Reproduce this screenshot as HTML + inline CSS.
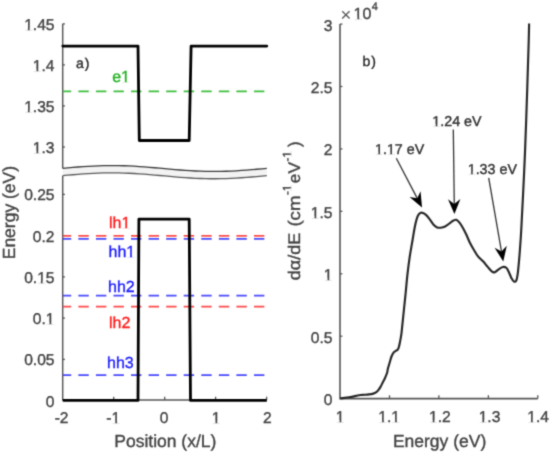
<!DOCTYPE html>
<html><head><meta charset="utf-8"><style>
html,body{margin:0;padding:0;background:#fff;}
svg{display:block;}

text{font-family:"Liberation Sans",sans-serif;stroke-width:0.35px;paint-order:stroke;text-rendering:geometricPrecision;}
</style></head><body>
<svg width="550" height="452" viewBox="0 0 550 452">
<defs><filter id="bl" x="0" y="0" width="550" height="452" filterUnits="userSpaceOnUse" color-interpolation-filters="sRGB"><feConvolveMatrix order="3" kernelMatrix="0.0277 0.1110 0.0277 0.1110 0.4452 0.1110 0.0277 0.1110 0.0277" divisor="1" edgeMode="duplicate"/></filter></defs>
<g filter="url(#bl)">
<rect width="550" height="452" fill="#fff"/>
<path d="M62.7,23.85 V168.5 M62.7,175.8 V399.9 H266.6" fill="none" stroke="#555555" stroke-width="1.45"/>
<line x1="62.7" y1="23.9" x2="64.9" y2="23.9" stroke="#555555" stroke-width="1.3"/>
<line x1="62.7" y1="64.9" x2="64.9" y2="64.9" stroke="#555555" stroke-width="1.3"/>
<line x1="62.7" y1="105.9" x2="64.9" y2="105.9" stroke="#555555" stroke-width="1.3"/>
<line x1="62.7" y1="147.0" x2="64.9" y2="147.0" stroke="#555555" stroke-width="1.3"/>
<line x1="62.7" y1="194.4" x2="64.9" y2="194.4" stroke="#555555" stroke-width="1.3"/>
<line x1="62.7" y1="235.6" x2="64.9" y2="235.6" stroke="#555555" stroke-width="1.3"/>
<line x1="62.7" y1="276.9" x2="64.9" y2="276.9" stroke="#555555" stroke-width="1.3"/>
<line x1="62.7" y1="318.1" x2="64.9" y2="318.1" stroke="#555555" stroke-width="1.3"/>
<line x1="62.7" y1="359.4" x2="64.9" y2="359.4" stroke="#555555" stroke-width="1.3"/>
<line x1="113.7" y1="399.9" x2="113.7" y2="396.7" stroke="#555555" stroke-width="1.3"/>
<line x1="164.7" y1="399.9" x2="164.7" y2="396.7" stroke="#555555" stroke-width="1.3"/>
<line x1="215.6" y1="399.9" x2="215.6" y2="396.7" stroke="#555555" stroke-width="1.3"/>
<line x1="266.6" y1="399.9" x2="266.6" y2="396.7" stroke="#555555" stroke-width="1.3"/>
<polygon points="62.7,168.35 67.8,167.89 72.9,167.44 78.0,167.02 83.1,166.64 88.2,166.31 93.3,166.03 98.4,165.80 103.5,165.65 108.6,165.57 113.7,165.55 118.8,165.61 123.9,165.75 129.0,165.95 134.1,166.21 139.2,166.53 144.3,166.90 149.4,167.30 154.5,167.74 159.6,168.20 164.8,168.66 169.9,169.12 175.0,169.56 180.1,169.98 185.2,170.36 190.3,170.70 195.4,170.98 200.5,171.20 205.6,171.35 210.7,171.43 215.8,171.45 220.9,171.38 226.0,171.25 231.1,171.05 236.2,170.79 241.3,170.47 246.4,170.10 251.5,169.69 256.6,169.26 261.7,168.80 266.8,168.34 266.8,175.64 261.7,176.10 256.6,176.56 251.5,176.99 246.4,177.40 241.3,177.77 236.2,178.09 231.1,178.35 226.0,178.55 220.9,178.68 215.8,178.75 210.7,178.73 205.6,178.65 200.5,178.50 195.4,178.28 190.3,178.00 185.2,177.66 180.1,177.28 175.0,176.86 169.9,176.42 164.8,175.96 159.6,175.50 154.5,175.04 149.4,174.60 144.3,174.20 139.2,173.83 134.1,173.51 129.0,173.25 123.9,173.05 118.8,172.91 113.7,172.85 108.6,172.87 103.5,172.95 98.4,173.10 93.3,173.33 88.2,173.61 83.1,173.94 78.0,174.32 72.9,174.74 67.8,175.19 62.7,175.65" fill="#f3f3f3" stroke="none"/>
<polyline points="62.7,168.35 67.8,167.89 72.9,167.44 78.0,167.02 83.1,166.64 88.2,166.31 93.3,166.03 98.4,165.80 103.5,165.65 108.6,165.57 113.7,165.55 118.8,165.61 123.9,165.75 129.0,165.95 134.1,166.21 139.2,166.53 144.3,166.90 149.4,167.30 154.5,167.74 159.6,168.20 164.8,168.66 169.9,169.12 175.0,169.56 180.1,169.98 185.2,170.36 190.3,170.70 195.4,170.98 200.5,171.20 205.6,171.35 210.7,171.43 215.8,171.45 220.9,171.38 226.0,171.25 231.1,171.05 236.2,170.79 241.3,170.47 246.4,170.10 251.5,169.69 256.6,169.26 261.7,168.80 266.8,168.34" fill="none" stroke="#3a3a3a" stroke-width="1.3"/>
<polyline points="62.7,175.65 67.8,175.19 72.9,174.74 78.0,174.32 83.1,173.94 88.2,173.61 93.3,173.33 98.4,173.10 103.5,172.95 108.6,172.87 113.7,172.85 118.8,172.91 123.9,173.05 129.0,173.25 134.1,173.51 139.2,173.83 144.3,174.20 149.4,174.60 154.5,175.04 159.6,175.50 164.8,175.96 169.9,176.42 175.0,176.86 180.1,177.28 185.2,177.66 190.3,178.00 195.4,178.28 200.5,178.50 205.6,178.65 210.7,178.73 215.8,178.75 220.9,178.68 226.0,178.55 231.1,178.35 236.2,178.09 241.3,177.77 246.4,177.40 251.5,176.99 256.6,176.56 261.7,176.10 266.8,175.64" fill="none" stroke="#5a5a5a" stroke-width="1.3"/>
<line x1="62.7" y1="91.4" x2="266.6" y2="91.4" stroke="#3cbe3c" stroke-width="1.75" stroke-dasharray="10.4 7.16" stroke-dashoffset="1.9"/>
<line x1="62.7" y1="235.8" x2="266.6" y2="235.8" stroke="#ff4848" stroke-width="1.75" stroke-dasharray="10.4 7.16" stroke-dashoffset="1.9"/>
<line x1="62.7" y1="238.9" x2="266.6" y2="238.9" stroke="#4848ff" stroke-width="1.75" stroke-dasharray="10.4 7.16" stroke-dashoffset="1.9"/>
<line x1="62.7" y1="295.5" x2="266.6" y2="295.5" stroke="#4848ff" stroke-width="1.75" stroke-dasharray="10.4 7.16" stroke-dashoffset="1.9"/>
<line x1="62.7" y1="306.6" x2="266.6" y2="306.6" stroke="#ff4848" stroke-width="1.75" stroke-dasharray="10.4 7.16" stroke-dashoffset="1.9"/>
<line x1="62.7" y1="375.0" x2="266.6" y2="375.0" stroke="#4848ff" stroke-width="1.75" stroke-dasharray="10.4 7.16" stroke-dashoffset="1.9"/>
<polyline points="62.8,46.1 138,46.1 139.3,140.5 189.2,140.5 191.1,46.1 266.8,46.1" fill="none" stroke="#000" stroke-width="2.8" stroke-linejoin="round" stroke-linecap="round"/>
<polyline points="62.8,400.4 138,400.4 138.9,219.2 189.2,219.2 190.5,400.4 266.8,400.4" fill="none" stroke="#000" stroke-width="2.8" stroke-linejoin="round" stroke-linecap="butt"/>
<text x="54.5" y="29.95" font-size="15.6" text-anchor="end" fill="#404040" stroke="#404040" >1.45</text>
<text x="54.5" y="71.00" font-size="15.6" text-anchor="end" fill="#404040" stroke="#404040" >1.4</text>
<text x="54.5" y="112.05" font-size="15.6" text-anchor="end" fill="#404040" stroke="#404040" >1.35</text>
<text x="54.5" y="153.10" font-size="15.6" text-anchor="end" fill="#404040" stroke="#404040" >1.3</text>
<text x="54.5" y="200.45" font-size="15.6" text-anchor="end" fill="#404040" stroke="#404040" >0.25</text>
<text x="54.5" y="241.70" font-size="15.6" text-anchor="end" fill="#404040" stroke="#404040" >0.2</text>
<text x="54.5" y="282.95" font-size="15.6" text-anchor="end" fill="#404040" stroke="#404040" >0.15</text>
<text x="54.5" y="324.20" font-size="15.6" text-anchor="end" fill="#404040" stroke="#404040" >0.1</text>
<text x="54.5" y="365.45" font-size="15.6" text-anchor="end" fill="#404040" stroke="#404040" >0.05</text>
<text x="54.5" y="406.70" font-size="15.6" text-anchor="end" fill="#404040" stroke="#404040" >0</text>
<text x="61.6" y="423.2" font-size="15.6" text-anchor="middle" fill="#404040" stroke="#404040" >-2</text>
<text x="113.3" y="423.2" font-size="15.6" text-anchor="middle" fill="#404040" stroke="#404040" >-1</text>
<text x="164.1" y="423.2" font-size="15.6" text-anchor="middle" fill="#404040" stroke="#404040" >0</text>
<text x="216.1" y="423.2" font-size="15.6" text-anchor="middle" fill="#404040" stroke="#404040" >1</text>
<text x="267.3" y="423.2" font-size="15.6" text-anchor="middle" fill="#404040" stroke="#404040" >2</text>
<text x="165.3" y="446.6" font-size="17.5" text-anchor="middle" fill="#404040" stroke="#404040" >Position (x/L)</text>
<text transform="translate(15.2,212.6) rotate(-90)" font-size="17.5" text-anchor="middle" fill="#404040" stroke="#404040">Energy (eV)</text>
<text x="76" y="67.5" font-size="14" text-anchor="start" fill="#262626" stroke="#262626" letter-spacing="1">a)</text>
<text x="112.2" y="81.8" font-size="16" text-anchor="start" fill="#1fb01f" stroke="#1fb01f" >e1</text>
<text x="109" y="228" font-size="16" text-anchor="start" fill="#ff1a1a" stroke="#ff1a1a" >lh1</text>
<text x="108.5" y="256.5" font-size="16" text-anchor="start" fill="#1a1aff" stroke="#1a1aff" >hh1</text>
<text x="108" y="291.5" font-size="16" text-anchor="start" fill="#1a1aff" stroke="#1a1aff" >hh2</text>
<text x="109" y="327.7" font-size="16" text-anchor="start" fill="#ff1a1a" stroke="#ff1a1a" >lh2</text>
<text x="107" y="368.1" font-size="16" text-anchor="start" fill="#1a1aff" stroke="#1a1aff" >hh3</text>
<path d="M340.0,24.08 V398.6 H537.80" fill="none" stroke="#555555" stroke-width="1.6"/>
<line x1="340.0" y1="336.2" x2="342.4" y2="336.2" stroke="#555555" stroke-width="1.3"/>
<line x1="340.0" y1="273.8" x2="342.4" y2="273.8" stroke="#555555" stroke-width="1.3"/>
<line x1="340.0" y1="211.3" x2="342.4" y2="211.3" stroke="#555555" stroke-width="1.3"/>
<line x1="340.0" y1="148.9" x2="342.4" y2="148.9" stroke="#555555" stroke-width="1.3"/>
<line x1="340.0" y1="86.5" x2="342.4" y2="86.5" stroke="#555555" stroke-width="1.3"/>
<line x1="340.0" y1="24.1" x2="342.4" y2="24.1" stroke="#555555" stroke-width="1.3"/>
<line x1="389.5" y1="398.6" x2="389.5" y2="395.20000000000005" stroke="#555555" stroke-width="1.3"/>
<line x1="438.9" y1="398.6" x2="438.9" y2="395.20000000000005" stroke="#555555" stroke-width="1.3"/>
<line x1="488.4" y1="398.6" x2="488.4" y2="395.20000000000005" stroke="#555555" stroke-width="1.3"/>
<line x1="537.8" y1="398.6" x2="537.8" y2="395.20000000000005" stroke="#555555" stroke-width="1.3"/>
<text x="332.5" y="405.10" font-size="15.6" text-anchor="end" fill="#404040" stroke="#404040" >0</text>
<text x="332.5" y="342.68" font-size="15.6" text-anchor="end" fill="#404040" stroke="#404040" >0.5</text>
<text x="332.5" y="280.26" font-size="15.6" text-anchor="end" fill="#404040" stroke="#404040" >1</text>
<text x="332.5" y="217.84" font-size="15.6" text-anchor="end" fill="#404040" stroke="#404040" >1.5</text>
<text x="332.5" y="155.42" font-size="15.6" text-anchor="end" fill="#404040" stroke="#404040" >2</text>
<text x="332.5" y="93.00" font-size="15.6" text-anchor="end" fill="#404040" stroke="#404040" >2.5</text>
<text x="332.5" y="30.58" font-size="15.6" text-anchor="end" fill="#404040" stroke="#404040" >3</text>
<text x="340.2" y="422.2" font-size="15.6" text-anchor="middle" fill="#404040" stroke="#404040" >1</text>
<text x="389.2" y="422.2" font-size="15.6" text-anchor="middle" fill="#404040" stroke="#404040" >1.1</text>
<text x="439.8" y="422.2" font-size="15.6" text-anchor="middle" fill="#404040" stroke="#404040" >1.2</text>
<text x="489.5" y="422.2" font-size="15.6" text-anchor="middle" fill="#404040" stroke="#404040" >1.3</text>
<text x="538.1" y="422.2" font-size="15.6" text-anchor="middle" fill="#404040" stroke="#404040" >1.4</text>
<text x="439.6" y="446.6" font-size="17.5" text-anchor="middle" fill="#404040" stroke="#404040" >Energy (eV)</text>
<text x="362.6" y="65.6" font-size="14" text-anchor="start" fill="#262626" stroke="#262626" letter-spacing="0.8">b)</text>
<text x="340.5" y="21" font-size="18.5" fill="#555">&#215;</text>
<text x="353.6" y="18.9" font-size="16" text-anchor="start" fill="#404040" stroke="#404040" >10</text>
<text x="371.8" y="9.6" font-size="11" text-anchor="start" fill="#404040" stroke="#404040" >4</text>
<g id="ylab" transform="translate(300.3,281.5) rotate(-90)" fill="#404040" stroke="#404040"><text x="1.2" y="0" font-size="16.8" textLength="47.6" lengthAdjust="spacingAndGlyphs">d&#945;/dE</text><text x="54.9" y="0" font-size="16.8" textLength="31" lengthAdjust="spacingAndGlyphs">(cm</text><text x="86.4" y="-9.1" font-size="11.8">-1</text><text x="98.3" y="0" font-size="16.8" textLength="21.2" lengthAdjust="spacingAndGlyphs">eV</text><text x="119.9" y="-9.1" font-size="11.8">-1</text><text x="134.5" y="0" font-size="16.8">)</text><g id="feet2" fill="#fff" stroke="none"><rect x="90.68" y="-10.59" width="2.54" height="1.68"/><rect x="94.48" y="-10.59" width="2.36" height="1.68"/><rect x="124.18" y="-10.59" width="2.54" height="1.68"/><rect x="127.98" y="-10.59" width="2.36" height="1.68"/></g></g>
<path d="M340.2,398.4 C340.92,398.32 343.05,398.08 344.50,397.90 C345.95,397.72 347.32,397.55 348.90,397.30 C350.48,397.05 352.57,396.70 354.00,396.40 C355.43,396.10 356.42,395.73 357.50,395.50 C358.58,395.27 359.33,395.12 360.50,395.00 C361.67,394.88 363.08,394.90 364.50,394.80 C365.92,394.70 367.55,394.60 369.00,394.40 C370.45,394.20 371.98,393.98 373.20,393.60 C374.42,393.22 375.42,392.72 376.30,392.10 C377.18,391.48 377.80,390.77 378.50,389.90 C379.20,389.03 379.80,388.13 380.50,386.90 C381.20,385.67 381.97,383.95 382.70,382.50 C383.43,381.05 384.17,379.83 384.90,378.20 C385.63,376.57 386.60,374.30 387.10,372.70 C387.60,371.10 387.47,370.30 387.90,368.60 C388.33,366.90 389.10,364.52 389.70,362.50 C390.30,360.48 390.88,358.12 391.50,356.50 C392.12,354.88 392.72,353.72 393.40,352.80 C394.08,351.88 394.90,351.50 395.60,351.00 C396.30,350.50 397.07,350.42 397.60,349.80 C398.13,349.18 398.40,348.62 398.80,347.30 C399.20,345.98 399.58,344.02 400.00,341.90 C400.42,339.78 400.95,337.03 401.30,334.60 C401.65,332.17 401.63,331.73 402.10,327.30 C402.57,322.87 403.48,313.97 404.10,308.00 C404.72,302.03 405.25,297.02 405.80,291.50 C406.35,285.98 406.75,280.67 407.40,274.90 C408.05,269.13 408.87,262.55 409.70,256.90 C410.53,251.25 411.52,246.15 412.40,241.00 C413.28,235.85 414.12,230.13 415.00,226.00 C415.88,221.87 416.80,218.38 417.70,216.20 C418.60,214.02 419.52,213.43 420.40,212.90 C421.28,212.37 421.98,212.58 423.00,213.00 C424.02,213.42 425.32,214.27 426.50,215.40 C427.68,216.53 428.92,218.25 430.10,219.80 C431.28,221.35 432.42,223.43 433.60,224.70 C434.78,225.97 436.02,226.90 437.20,227.40 C438.38,227.90 439.38,227.85 440.70,227.70 C442.02,227.55 443.62,227.23 445.10,226.50 C446.58,225.77 448.27,224.27 449.60,223.30 C450.93,222.33 451.98,221.28 453.10,220.70 C454.22,220.12 455.27,219.52 456.30,219.80 C457.33,220.08 458.22,221.08 459.30,222.40 C460.38,223.72 461.62,225.63 462.80,227.70 C463.98,229.77 465.22,232.28 466.40,234.80 C467.58,237.32 468.72,240.40 469.90,242.80 C471.08,245.20 472.15,246.95 473.50,249.20 C474.85,251.45 476.37,254.23 478.00,256.30 C479.63,258.37 481.68,259.83 483.30,261.60 C484.92,263.37 486.23,265.22 487.70,266.90 C489.17,268.58 490.92,270.82 492.10,271.70 C493.28,272.58 493.77,272.55 494.80,272.20 C495.83,271.85 496.98,270.47 498.30,269.60 C499.62,268.73 501.37,267.30 502.70,267.00 C504.03,266.70 505.27,266.93 506.30,267.80 C507.33,268.67 508.02,270.43 508.90,272.20 C509.78,273.97 510.77,276.83 511.60,278.40 C512.43,279.97 513.10,281.30 513.90,281.60 C514.70,281.90 515.75,281.62 516.40,280.20 C517.05,278.78 517.33,276.65 517.80,273.10 C518.27,269.55 518.77,263.92 519.20,258.90 C519.63,253.88 520.05,248.02 520.40,243.00 C520.75,237.98 520.68,240.47 521.30,228.80 C521.92,217.13 523.28,191.13 524.10,173.00 C524.92,154.87 525.45,141.33 526.20,120.00 C526.95,98.67 528.12,61.07 528.60,45.00 C529.08,28.93 529.02,27.17 529.10,23.60" fill="none" stroke="#262626" stroke-width="2.15" stroke-linejoin="round"/>
<line x1="396.3" y1="158.3" x2="417.28" y2="198.36" stroke="#333" stroke-width="1.3"/>
<polygon points="422.02,207.40 420.55,191.23 417.28,198.36 409.57,196.99" fill="#000"/>
<line x1="453.3" y1="129.5" x2="454.28" y2="203.90" stroke="#333" stroke-width="1.3"/>
<polygon points="454.41,214.10 460.41,199.02 454.28,203.90 448.02,199.18" fill="#000"/>
<line x1="488.7" y1="177.9" x2="501.51" y2="251.54" stroke="#333" stroke-width="1.3"/>
<polygon points="503.25,261.59 506.79,245.75 501.51,251.54 494.58,247.87" fill="#000"/>
<text x="375.0" y="154.3" font-size="14.3" text-anchor="start" fill="#303030" stroke="#303030" >1.17 eV</text>
<text x="432.3" y="125.8" font-size="14.3" text-anchor="start" fill="#303030" stroke="#303030" >1.24 eV</text>
<text x="467.7" y="174.3" font-size="14.3" text-anchor="start" fill="#303030" stroke="#303030" >1.33 eV</text>
<g id="feet" fill="#fff"><rect x="24.14" y="28.03" width="3.71" height="2.47"/><rect x="29.65" y="28.03" width="3.23" height="2.47"/><rect x="32.81" y="69.03" width="3.71" height="2.47"/><rect x="38.32" y="69.03" width="3.23" height="2.47"/><rect x="24.14" y="110.03" width="3.71" height="2.47"/><rect x="29.65" y="110.03" width="3.23" height="2.47"/><rect x="32.81" y="151.03" width="3.71" height="2.47"/><rect x="38.32" y="151.03" width="3.23" height="2.47"/><rect x="37.14" y="281.03" width="3.71" height="2.47"/><rect x="42.65" y="281.03" width="3.23" height="2.47"/><rect x="45.81" y="322.03" width="3.71" height="2.47"/><rect x="51.32" y="322.03" width="3.23" height="2.47"/><rect x="111.55" y="421.03" width="3.71" height="2.47"/><rect x="117.06" y="421.03" width="3.23" height="2.47"/><rect x="211.76" y="421.03" width="3.71" height="2.47"/><rect x="217.26" y="421.03" width="3.23" height="2.47"/><rect x="121.09" y="80.00" width="3.81" height="2.50"/><rect x="126.74" y="80.00" width="3.31" height="2.50"/><rect x="121.45" y="226.00" width="3.81" height="2.50"/><rect x="127.10" y="226.00" width="3.31" height="2.50"/><rect x="126.30" y="255.00" width="3.81" height="2.50"/><rect x="131.94" y="255.00" width="3.31" height="2.50"/><rect x="323.81" y="278.03" width="3.71" height="2.47"/><rect x="329.32" y="278.03" width="3.23" height="2.47"/><rect x="310.81" y="216.03" width="3.71" height="2.47"/><rect x="316.32" y="216.03" width="3.23" height="2.47"/><rect x="335.86" y="420.03" width="3.71" height="2.47"/><rect x="341.36" y="420.03" width="3.23" height="2.47"/><rect x="378.36" y="420.03" width="3.71" height="2.47"/><rect x="383.86" y="420.03" width="3.23" height="2.47"/><rect x="391.36" y="420.03" width="3.71" height="2.47"/><rect x="396.86" y="420.03" width="3.23" height="2.47"/><rect x="428.96" y="420.03" width="3.71" height="2.47"/><rect x="434.46" y="420.03" width="3.23" height="2.47"/><rect x="478.66" y="420.03" width="3.71" height="2.47"/><rect x="484.16" y="420.03" width="3.23" height="2.47"/><rect x="527.26" y="420.03" width="3.71" height="2.47"/><rect x="532.76" y="420.03" width="3.23" height="2.47"/><rect x="353.60" y="17.00" width="3.81" height="2.50"/><rect x="359.25" y="17.00" width="3.31" height="2.50"/><rect x="375.00" y="152.13" width="3.40" height="2.37"/><rect x="380.05" y="152.13" width="2.96" height="2.37"/><rect x="386.92" y="152.13" width="3.40" height="2.37"/><rect x="391.97" y="152.13" width="2.96" height="2.37"/><rect x="432.30" y="124.13" width="3.40" height="2.37"/><rect x="437.35" y="124.13" width="2.96" height="2.37"/><rect x="467.70" y="172.13" width="3.40" height="2.37"/><rect x="472.75" y="172.13" width="2.96" height="2.37"/></g>
</g>
</svg>
</body></html>
